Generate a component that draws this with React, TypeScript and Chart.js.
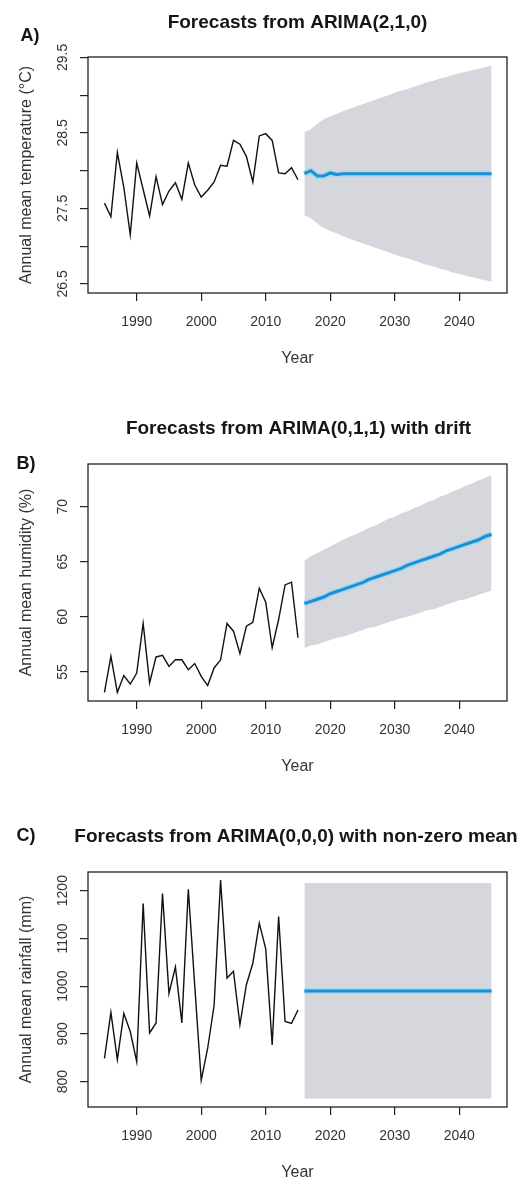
import React, { useEffect, useRef } from 'react';
import { Chart, registerables } from 'chart.js';

Chart.register(...registerables);

// ---------- data ----------
const HIST_YEARS = [
  1985, 1986, 1987, 1988, 1989, 1990, 1991, 1992, 1993, 1994, 1995, 1996, 1997, 1998, 1999, 2000,
  2001, 2002, 2003, 2004, 2005, 2006, 2007, 2008, 2009, 2010, 2011, 2012, 2013, 2014, 2015,
];
const FORECAST_YEARS = [
  2016, 2017, 2018, 2019, 2020, 2021, 2022, 2023, 2024, 2025, 2026, 2027, 2028, 2029, 2030,
  2031, 2032, 2033, 2034, 2035, 2036, 2037, 2038, 2039, 2040, 2041, 2042, 2043, 2044, 2045,
];
const YEAR_TICKS = [1990, 2000, 2010, 2020, 2030, 2040];

// A) temperature
const TEMP_HISTORY = [
  27.57, 27.39, 28.24, 27.78, 27.15, 28.1, 27.75, 27.4, 27.92, 27.55, 27.73, 27.84, 27.62, 28.1, 27.81, 27.65,
  27.74, 27.85, 28.07, 28.06, 28.4, 28.35, 28.19, 27.85, 28.46, 28.49, 28.4, 27.97, 27.96, 28.04, 27.88,
];
const TEMP_FORECAST = [
  27.96, 28.0, 27.93, 27.93, 27.97, 27.95, 27.96, 27.96, 27.96, 27.96, 27.96, 27.96, 27.96, 27.96, 27.96,
  27.96, 27.96, 27.96, 27.96, 27.96, 27.96, 27.96, 27.96, 27.96, 27.96, 27.96, 27.96, 27.96, 27.96, 27.96,
];
const TEMP_UPPER = [
  28.51, 28.55, 28.62, 28.68, 28.72, 28.75, 28.79, 28.82, 28.85, 28.88, 28.91, 28.94, 28.97, 29.0, 29.03,
  29.06, 29.08, 29.11, 29.14, 29.17, 29.19, 29.22, 29.24, 29.27, 29.29, 29.31, 29.33, 29.35, 29.37, 29.39,
];
const TEMP_LOWER = [
  27.41, 27.37, 27.3, 27.24, 27.2, 27.17, 27.13, 27.1, 27.07, 27.04, 27.01, 26.98, 26.95, 26.92, 26.89,
  26.86, 26.84, 26.81, 26.78, 26.75, 26.73, 26.7, 26.68, 26.65, 26.63, 26.61, 26.59, 26.57, 26.55, 26.53,
];
const TEMP_TICKS = [26.5, 27.0, 27.5, 28.0, 28.5, 29.0, 29.5];
const TEMP_TICK_LABELS = ['26.5', '27.5', '28.5', '29.5'];

// B) humidity
const HUM_HISTORY = [
  53.15, 56.42, 53.15, 54.67, 53.9, 54.9, 59.4, 54.0, 56.36, 56.5, 55.5, 56.1, 56.1, 55.2, 55.76, 54.6,
  53.76, 55.36, 56.1, 59.4, 58.7, 56.67, 59.15, 59.5, 62.6, 61.33, 57.2, 59.76, 62.9, 63.15, 58.1,
];
const HUM_FORECAST = [
  61.2, 61.4, 61.6, 61.8, 62.1, 62.3, 62.5, 62.7, 62.9, 63.1, 63.4, 63.6, 63.8, 64.0, 64.2,
  64.4, 64.7, 64.9, 65.1, 65.3, 65.5, 65.7, 66.0, 66.2, 66.4, 66.6, 66.8, 67.0, 67.3, 67.5,
];
const HUM_UPPER = [
  65.1, 65.5, 65.8, 66.1, 66.4, 66.7, 67.0, 67.3, 67.5, 67.8, 68.1, 68.3, 68.6, 68.9, 69.1,
  69.4, 69.6, 69.9, 70.1, 70.4, 70.6, 70.9, 71.1, 71.4, 71.6, 71.9, 72.1, 72.4, 72.6, 72.9,
];
const HUM_LOWER = [
  57.2, 57.4, 57.5, 57.7, 57.9, 58.1, 58.2, 58.4, 58.6, 58.8, 59.0, 59.1, 59.3, 59.5, 59.7,
  59.9, 60.0, 60.2, 60.4, 60.6, 60.7, 60.9, 61.1, 61.3, 61.5, 61.6, 61.8, 62.0, 62.2, 62.4,
];
const HUM_TICKS = [55, 60, 65, 70];
const HUM_TICK_LABELS = ['55', '60', '65', '70'];

// C) rainfall
const RAIN_HISTORY = [
  849, 945, 846, 943, 905, 842, 1173, 902, 923, 1194, 985, 1040, 923, 1203, 1000, 803,
  870, 960, 1222, 1017, 1031, 919, 1003, 1048, 1132, 1078, 877, 1146, 926, 922, 950,
];
const RAIN_FORECAST = [
  990, 990, 990, 990, 990, 990, 990, 990, 990, 990, 990, 990, 990, 990, 990,
  990, 990, 990, 990, 990, 990, 990, 990, 990, 990, 990, 990, 990, 990, 990,
];
const RAIN_UPPER = [
  1216, 1216, 1216, 1216, 1216, 1216, 1216, 1216, 1216, 1216, 1216, 1216, 1216, 1216, 1216,
  1216, 1216, 1216, 1216, 1216, 1216, 1216, 1216, 1216, 1216, 1216, 1216, 1216, 1216, 1216,
];
const RAIN_LOWER = [
  765, 765, 765, 765, 765, 765, 765, 765, 765, 765, 765, 765, 765, 765, 765,
  765, 765, 765, 765, 765, 765, 765, 765, 765, 765, 765, 765, 765, 765, 765,
];
const RAIN_TICKS = [800, 900, 1000, 1100, 1200];
const RAIN_TICK_LABELS = ['800', '900', '1000', '1100', '1200'];

// ---------- styling ----------
const FONT = "'Liberation Sans', Arial, Helvetica, sans-serif";
const BAND = 'rgb(214,214,221)';
const BLUE = '#1c8fd0';
const HALO = '#a6d6f0';
const AXIS = '#222';
const TEXT = '#333';

type PanelSpec = {
  top: number;
  height: number;
  padTop: number;
  xAxisHeight: number;
  xTitlePad: number;
  yMin: number;
  yMax: number;
  yTicks: number[];
  yPad: number;
  yDecimals: number;
  yTickLabels: string[];
  yTitle: string;
  title: string;
  titleX: number;
  titleY: number;
  tag: string;
  tagX: number;
  tagY: number;
  history: number[];
  forecast: number[];
  upper: number[];
  lower: number[];
};

const pts = (xs: number[], ys: number[]) => xs.map((x, i) => ({ x, y: ys[i] }));

function Panel({ spec }: { spec: PanelSpec }) {
  const ref = useRef<HTMLCanvasElement | null>(null);
  useEffect(() => {
    if (!ref.current) return;
    const deco = {
      id: 'deco',
      afterDraw(chart: any) {
        const { ctx, chartArea } = chart;
        const { left, top, right, bottom } = chartArea;
        ctx.save();
        ctx.strokeStyle = AXIS;
        ctx.lineWidth = 1.3;
        ctx.strokeRect(left, top, right - left, bottom - top);
        ctx.fillStyle = '#161616';
        ctx.textAlign = 'center';
        ctx.textBaseline = 'middle';
        ctx.font = `bold 19px ${FONT}`;
        ctx.fillText(spec.title, spec.titleX, spec.titleY);
        ctx.font = `bold 18px ${FONT}`;
        ctx.fillText(spec.tag, spec.tagX, spec.tagY);
        ctx.restore();
      },
    };
    const gridOpts = {
      display: true,
      drawOnChartArea: false,
      drawTicks: true,
      tickLength: 8,
      color: AXIS,
      lineWidth: 1.2,
    };
    const chart = new Chart(ref.current, {
      type: 'line',
      data: {
        datasets: [
          {
            label: 'lower',
            data: pts(FORECAST_YEARS, spec.lower),
            borderColor: 'rgba(0,0,0,0)',
            borderWidth: 0,
            pointRadius: 0,
            fill: false,
            order: 10,
          },
          {
            label: 'upper',
            data: pts(FORECAST_YEARS, spec.upper),
            borderColor: 'rgba(0,0,0,0)',
            borderWidth: 0,
            pointRadius: 0,
            fill: '-1',
            backgroundColor: BAND,
            order: 10,
          },
          {
            label: 'history',
            data: pts(HIST_YEARS, spec.history),
            borderColor: '#111',
            borderWidth: 1.4,
            pointRadius: 0,
            fill: false,
            order: 2,
          },
          {
            label: 'halo',
            data: pts(FORECAST_YEARS, spec.forecast),
            borderColor: HALO,
            borderWidth: 6,
            pointRadius: 0,
            fill: false,
            order: 1,
          },
          {
            label: 'forecast',
            data: pts(FORECAST_YEARS, spec.forecast),
            borderColor: BLUE,
            borderWidth: 3,
            pointRadius: 0,
            fill: false,
            order: 0,
          },
        ],
      },
      options: {
        responsive: false,
        maintainAspectRatio: false,
        animation: false,
        devicePixelRatio: 1,
        layout: { padding: { left: 0, right: 16, top: spec.padTop, bottom: 0 } },
        elements: { line: { tension: 0 } },
        plugins: {
          legend: { display: false },
          tooltip: { enabled: false },
          title: { display: false },
          filler: { drawTime: 'beforeDatasetsDraw' },
        } as any,
        scales: {
          x: {
            type: 'linear',
            min: 1982.45,
            max: 2047.4,
            afterFit: (s: any) => {
              s.height = spec.xAxisHeight;
            },
            afterBuildTicks: (s: any) => {
              s.ticks = YEAR_TICKS.map((v) => ({ value: v }));
            },
            grid: gridOpts,
            border: { display: false },
            ticks: {
              autoSkip: false,
              minRotation: 0,
              maxRotation: 0,
              padding: 12.6,
              color: TEXT,
              font: { family: FONT, size: 14 },
              callback: (v: any) => String(v),
            },
            title: {
              display: true,
              text: 'Year',
              color: TEXT,
              font: { family: FONT, size: 16 },
              padding: { top: 0, bottom: spec.xTitlePad },
            },
          },
          y: {
            type: 'linear',
            position: 'left',
            min: spec.yMin,
            max: spec.yMax,
            afterFit: (s: any) => {
              s.width = 88;
            },
            afterBuildTicks: (s: any) => {
              s.ticks = spec.yTicks.map((v) => ({ value: v }));
            },
            grid: gridOpts,
            border: { display: false },
            ticks: {
              autoSkip: false,
              minRotation: 90,
              maxRotation: 90,
              crossAlign: 'center',
              padding: spec.yPad,
              color: TEXT,
              font: { family: FONT, size: 14 },
              callback: (v: any) => {
                const s = Number(v).toFixed(spec.yDecimals);
                return spec.yTickLabels.includes(s) ? s : '';
              },
            },
            title: {
              display: true,
              text: spec.yTitle,
              color: TEXT,
              font: { family: FONT, size: 16 },
              padding: { top: 17.4, bottom: 0 },
            },
          },
        } as any,
      },
      plugins: [deco],
    } as any);
    return () => chart.destroy();
  }, [spec]);
  return (
    <canvas
      ref={ref}
      width={523}
      height={spec.height}
      style={{ position: 'absolute', left: 0, top: spec.top, width: 523, height: spec.height, display: 'block' }}
    />
  );
}

const PANELS: PanelSpec[] = [
  {
    top: 0,
    height: 373,
    padTop: 57,
    xAxisHeight: 80,
    xTitlePad: 4.4,
    yMin: 26.38,
    yMax: 29.505,
    yTicks: TEMP_TICKS,
    yPad: 3.4,
    yDecimals: 1,
    yTickLabels: TEMP_TICK_LABELS,
    yTitle: 'Annual mean temperature (°C)',
    title: 'Forecasts from ARIMA(2,1,0)',
    titleX: 297.5,
    titleY: 23,
    tag: 'A)',
    tagX: 30,
    tagY: 36,
    history: TEMP_HISTORY,
    forecast: TEMP_FORECAST,
    upper: TEMP_UPPER,
    lower: TEMP_LOWER,
  },
  {
    top: 390,
    height: 391,
    padTop: 74,
    xAxisHeight: 80,
    xTitlePad: 4.4,
    yMin: 52.36,
    yMax: 73.88,
    yTicks: HUM_TICKS,
    yPad: 9.2,
    yDecimals: 0,
    yTickLabels: HUM_TICK_LABELS,
    yTitle: 'Annual mean humidity (%)',
    title: 'Forecasts from ARIMA(0,1,1) with drift',
    titleX: 298.5,
    titleY: 39,
    tag: 'B)',
    tagX: 26,
    tagY: 74,
    history: HUM_HISTORY,
    forecast: HUM_FORECAST,
    upper: HUM_UPPER,
    lower: HUM_LOWER,
  },
  {
    top: 800,
    height: 383,
    padTop: 72,
    xAxisHeight: 76,
    xTitlePad: 0.4,
    yMin: 747,
    yMax: 1239,
    yTicks: RAIN_TICKS,
    yPad: 1.4,
    yDecimals: 0,
    yTickLabels: RAIN_TICK_LABELS,
    yTitle: 'Annual mean rainfall (mm)',
    title: 'Forecasts from ARIMA(0,0,0) with non-zero mean',
    titleX: 296,
    titleY: 36.5,
    tag: 'C)',
    tagX: 26,
    tagY: 36.5,
    history: RAIN_HISTORY,
    forecast: RAIN_FORECAST,
    upper: RAIN_UPPER,
    lower: RAIN_LOWER,
  },
];

export default function App() {
  return (
    <div
      style={{
        position: 'absolute',
        left: 0,
        top: 0,
        width: 523,
        height: 1182,
        overflow: 'hidden',
        background: '#ffffff',
      }}
    >
      {PANELS.map((p, i) => (
        <Panel key={i} spec={p} />
      ))}
    </div>
  );
}
